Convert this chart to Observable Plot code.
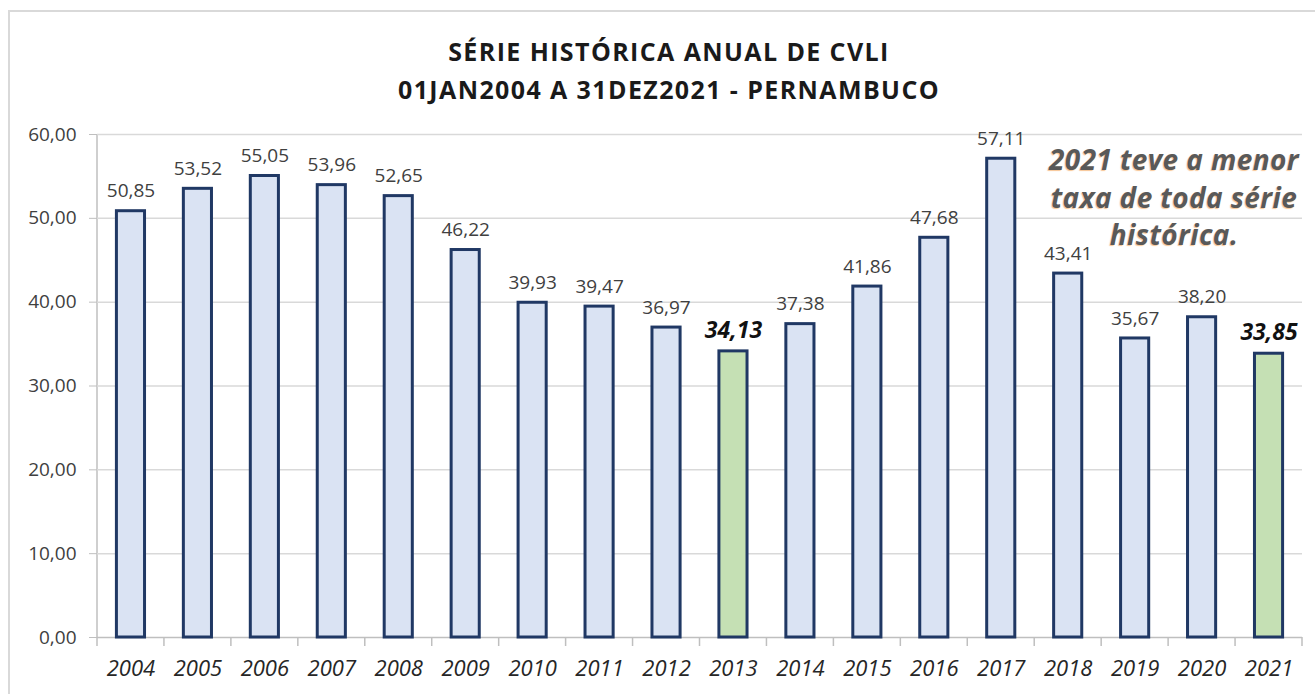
<!DOCTYPE html>
<html><head><meta charset="utf-8">
<script src="https://cdn.jsdelivr.net/npm/d3@7"></script>
<script src="https://cdn.jsdelivr.net/npm/@observablehq/plot@0.6"></script>
<style>
body{margin:0;background:#fff;font-family:"Open Sans",sans-serif;}
#wrap{position:relative;width:1315px;height:694px;overflow:hidden;background:#fff;}
#frame{position:absolute;left:8px;top:10px;width:1400px;height:800px;border:2px solid #d9d9d9;}
#title{position:absolute;left:0;top:32px;width:1338px;text-align:center;font-weight:700;font-size:25px;letter-spacing:1.4px;line-height:38px;color:#1a1a1a;}
#chart{position:absolute;left:0;top:120px;}
#note{position:absolute;left:1024px;top:141px;width:300px;text-align:center;font-style:italic;font-weight:700;font-size:28px;letter-spacing:0.4px;line-height:37.5px;color:#595959;text-shadow:-1px 1px 1px rgba(240,150,60,.55);}
</style></head>
<body>
<div id="wrap">
<div id="frame"></div>
<div id="title">SÉRIE HISTÓRICA ANUAL DE CVLI<br>01JAN2004 A 31DEZ2021 - PERNAMBUCO</div>
<div id="chart"></div>
<div id="note">2021 teve a menor<br>taxa de toda série<br>histórica.</div>
</div>
<script>
const years = ["2004","2005","2006","2007","2008","2009","2010","2011","2012","2013","2014","2015","2016","2017","2018","2019","2020","2021"];
const values = [50.85,53.52,55.05,53.96,52.65,46.22,39.93,39.47,36.97,34.13,37.38,41.86,47.68,57.11,43.41,35.67,38.20,33.85];
const highlightYears = ["2013","2021"];
const yTicks = [0,10,20,30,40,50,60];

const data = years.map((y,i)=>({year:y, value:values[i], hi: highlightYears.includes(y)}));
const fmt = v => v.toFixed(2).replace(".", ",");

const W = 1315, H = 574, mL = 97, mR = 13, mT = 14, mB = 57;
const plot = Plot.plot({
  width: W, height: H,
  marginLeft: mL, marginRight: mR, marginTop: mT, marginBottom: mB,
  style: {fontFamily: "'Open Sans', sans-serif", background: "transparent", overflow: "visible"},
  x: {domain: years, paddingInner: 0.58, paddingOuter: 0.29, round: false, label: null},
  y: {domain: [0,60], label: null},
  marks: [
    Plot.ruleY(yTicks.filter(d=>d>0), {stroke:"#d9d9d9", strokeWidth:1.5}),
    Plot.ruleY([0], {stroke:"#bfbfbf", strokeWidth:1.5}),
    Plot.axisY({ticks: yTicks, tickSize: 8, tickPadding: 13, tickFormat: fmt, stroke:"#bfbfbf", fill:"#404040", fontSize: 19, letterSpacing: "1px", label: null}),
    Plot.axisX({tickSize: 0, tickPadding: 31, lineAnchor: "middle", fontSize: 22, fontStyle: "italic", fill:"#262626", label: null}),
    Plot.barY(data.filter(d=>!d.hi), {x:"year", y:"value", fill:"#dae3f3", stroke:"#203864", strokeWidth:3}),
    Plot.barY(data.filter(d=>d.hi), {x:"year", y:"value", fill:"#c5e0b4", stroke:"#203864", strokeWidth:3}),
    Plot.text(data.filter(d=>!d.hi), {x:"year", y:"value", text: d=>fmt(d.value), dy:-20, fontSize:19, fill:"#404040"}),
    Plot.text(data.filter(d=>d.hi), {x:"year", y:"value", text: d=>fmt(d.value), dy:-21, fontSize:23, letterSpacing:"0.5px", fontWeight:700, fontStyle:"italic", fill:"#111"})
  ]
});
document.getElementById("chart").appendChild(plot);

// vertical y-axis line and category boundary ticks, positioned from Plot's scales
const xs = plot.scale("x"), ys = plot.scale("y");
const svg = d3.select(plot);
const y0 = ys.apply(0), y60 = ys.apply(60);
svg.insert("line", ":first-child")
  .attr("x1", mL).attr("x2", mL).attr("y1", y60).attr("y2", y0)
  .attr("stroke", "#bfbfbf").attr("stroke-width", 1.5);
const off = (xs.step - xs.bandwidth) / 2;
const bounds = years.map(y => xs.apply(y) - off).concat([xs.apply(years[years.length-1]) + xs.bandwidth + off]);
svg.append("g").selectAll("line").data(bounds).join("line")
  .attr("x1", d=>d).attr("x2", d=>d).attr("y1", y0).attr("y2", y0+9)
  .attr("stroke", "#bfbfbf").attr("stroke-width", 1.5);
</script>
</body></html>
